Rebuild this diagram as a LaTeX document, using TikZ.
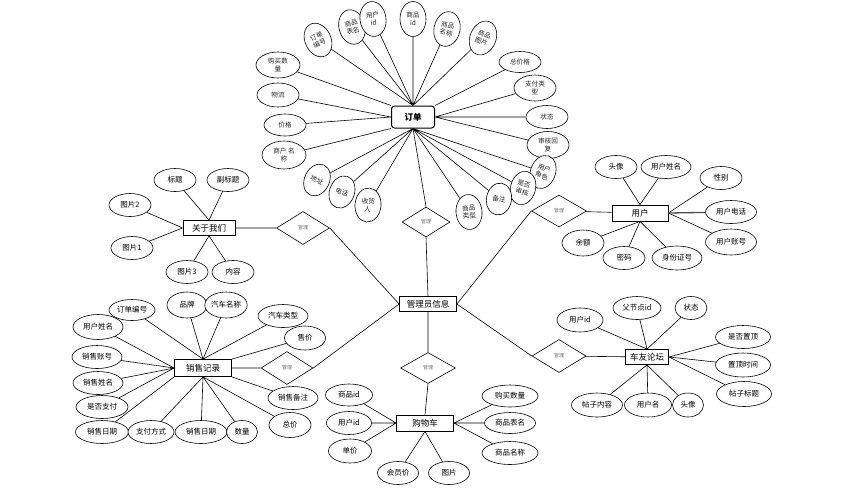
\documentclass[tikz,border=0pt]{standalone}
\usepackage{fontspec}
\setmainfont{Noto Sans CJK SC}
\usetikzlibrary{shapes.geometric}
\begin{document}
\begin{tikzpicture}[x=1pt,y=-1pt,
  every node/.style={inner sep=0pt},
  box/.style={draw, line width=0.8pt, rectangle, minimum height=15pt, fill=white, font=\fontsize{8.5}{10}\selectfont},
  att/.style={draw, ellipse, line width=0.6pt, minimum width=42pt, minimum height=23pt, fill=white, font=\fontsize{7.5}{9}\selectfont},
  satt/.style={draw, ellipse, line width=0.6pt, minimum width=26pt, minimum height=35pt, align=center, fill=white, font=\fontsize{6.6}{7.8}\selectfont, text=black!85},
  hatt/.style={satt, minimum width=42pt, minimum height=24pt},
  rel/.style={draw, diamond, line width=0.6pt, fill=white, font=\fontsize{5}{6}\selectfont, text=black!55},
  ln/.style={line width=0.6pt}]
\path[use as bounding box, fill=white] (0,0) rectangle (850,499);

% entities
\node[box, rounded corners=3pt, line width=1pt, minimum width=43pt, minimum height=22pt, font=\fontsize{8.5}{10}\selectfont\bfseries] (O) at (413,117) {订单};
\node[box, minimum width=57pt] (M) at (428,304) {管理员信息};
\node[box, minimum width=52pt] (A) at (209,228) {关于我们};
\node[box, minimum width=56pt, minimum height=16pt] (U) at (640,213) {用户};
\node[box, minimum width=57pt, minimum height=17pt] (S) at (203,368) {销售记录};
\node[box, minimum width=57pt, minimum height=16pt] (C) at (425,423) {购物车};
\node[box, minimum width=43pt] (F) at (647,357) {车友论坛};

% relations
\node[rel, minimum width=48pt, minimum height=30pt] (D1) at (426,222) {管理};
\node[rel, minimum width=53pt, minimum height=33pt] (D2) at (303,228) {管理};
\node[rel, minimum width=55pt, minimum height=32pt] (D3) at (559,211) {管理};
\node[rel, minimum width=52pt, minimum height=33pt] (D4) at (287,368) {管理};
\node[rel, minimum width=55pt, minimum height=31pt] (D5) at (428,368) {管理};
\node[rel, minimum width=54pt, minimum height=33pt] (D6) at (559,356) {管理};

\draw[ln] (O.south) -- (D1.north) (D1.south) -- (M.north)
  (A) -- (D2) (D2.east) -- (M.west)
  (U) -- (D3) (D3.west) -- (M.east)
  (S) -- (D4) (D4.east) -- (M.west)
  (M.south) -- (D5.north) (D5.south) -- (C.north)
  (F) -- (D6) (D6.west) -- (M.east);

% order attributes
\node[satt, rotate=25] (o1) at (318,40) {订单\\编号};
\node[satt, rotate=15] (o2) at (352,27) {商品\\表名};
\node[satt, rotate=8] (o3) at (373,19) {用户\\id};
\node[satt] (o4) at (413,19) {商品\\id};
\node[satt, rotate=-12] (o5) at (447,29) {商品\\名称};
\node[satt, rotate=-22] (o6) at (483,38) {商品\\图片};
\node[hatt, minimum height=21pt] (o7) at (520,62) {总价格};
\node[hatt, minimum height=26pt] (o8) at (535,88) {支付类\\型};
\node[hatt, minimum height=23pt] (o9) at (547,117) {状态};
\node[hatt, minimum height=27pt] (o10) at (548,145) {审核回\\复};
\node[satt, minimum width=25pt, minimum height=34pt, rotate=-20] (o11) at (543,172) {用户\\角色};
\node[satt, minimum width=25pt, minimum height=34pt, rotate=-15] (o12) at (523,188) {是否\\审核};
\node[satt, minimum width=25pt, minimum height=32pt, rotate=-10] (o13) at (499,199) {备注};
\node[satt, minimum width=26pt, minimum height=35pt, rotate=5] (o14) at (469,212) {商品\\类型};
\node[satt, minimum width=26pt, minimum height=34pt, rotate=-5] (o15) at (368,205) {收货\\人};
\node[satt, minimum width=25pt, minimum height=33pt, rotate=-20] (o16) at (342,192) {电话};
\node[satt, minimum width=25pt, minimum height=33pt, rotate=-25] (o17) at (317,180) {地址};
\node[hatt, minimum width=44pt, minimum height=28pt] (o18) at (284,155) {商户 名\\称};
\node[hatt, minimum height=22pt] (o19) at (285,125) {价格};
\node[hatt] (o20) at (278,95) {物流};
\node[hatt, minimum width=44pt, minimum height=26pt] (o21) at (278,65) {购买数\\量};

\draw[ln] (o1) -- (O.north) (o2) -- (O.north) (o3) -- (O.north) (o4) -- (O.north)
  (o5) -- (O.north) (o6) -- (O.north) (o7) -- (O.north east)
  (o8) -- (O.east) (o9) -- (O.east) (o10) -- (O.east)
  (o11) -- (O.south) (o12) -- (O.south) (o13) -- (O.south) (o14) -- (O.south)
  (o15) -- (O.south) (o16) -- (O.south) (o17) -- (O.south)
  (o18) -- (O.south west) (o19) -- (O.west) (o20) -- (O.west) (o21) -- (O.north west);

% about us
\node[att] (a1) at (175,180) {标题};
\node[att] (a2) at (228,180) {副标题};
\node[att] (a3) at (130,205) {图片2};
\node[att] (a4) at (132,248) {图片1};
\node[att] (a5) at (187,272) {图片3};
\node[att] (a6) at (233,272) {内容};
\draw[ln] (a1) -- (A.north) (a2) -- (A.north) (a3) -- (A.west) (a4) -- (A.west)
  (a5) -- (A.south) (a6) -- (A.south);

% user
\node[att] (u1) at (616,167) {头像};
\node[att, minimum width=50pt] (u2) at (666,167) {用户姓名};
\node[att] (u3) at (721,178) {性别};
\node[att, minimum width=51pt] (u4) at (731,212) {用户电话};
\node[att, minimum width=51pt, minimum height=26pt] (u5) at (731,242) {用户账号};
\node[att, minimum height=26pt] (u6) at (583,243) {余额};
\node[att] (u7) at (624,258) {密码};
\node[att, minimum width=50pt, minimum height=24pt] (u8) at (677,258) {身份证号};
\draw[ln] (u1) -- (U.north) (u2) -- (U.north) (u3) -- (U.east) (u5) -- (U.east)
  (u6) -- (U.south) (u7) -- (U.south) (u8) -- (U.south);
\draw[line width=1.3pt, black!70] (u4) -- (U.east);

% sales record
\node[att, minimum width=46pt, minimum height=21pt] (s1) at (132,310) {订单编号};
\node[att, minimum width=40pt, minimum height=26pt] (s2) at (187,305) {品牌};
\node[att, minimum width=40pt, minimum height=26pt] (s3) at (226,305) {汽车名称};
\node[att, minimum width=50pt] (s4) at (283,316) {汽车类型};
\node[att, minimum width=41pt, minimum height=24pt] (s5) at (305,338) {售价};
\node[att, minimum width=50pt, minimum height=25pt] (s6) at (98,327) {用户姓名};
\node[att, minimum width=50pt] (s7) at (97,357) {销售账号};
\node[att, minimum width=50pt] (s8) at (98,383) {销售姓名};
\node[att, minimum width=52pt] (s9) at (102,407) {是否支付};
\node[att, minimum width=53pt] (s10) at (102,432) {销售日期};
\node[att, minimum width=46pt] (s11) at (151,432) {支付方式};
\node[att, minimum width=52pt] (s12) at (201,432) {销售日期};
\node[att, minimum width=31pt] (s13) at (242,432) {数量};
\node[att, minimum width=50pt] (s14) at (293,398) {销售备注};
\node[att, minimum width=42pt, minimum height=25pt] (s15) at (290,425) {总价};
\draw[ln] (s1) -- (S.north) (s2) -- (S.north) (s3) -- (S.north) (s4) -- (S.north)
  (s5) -- (S.north east) (s6) -- (S.west) (s7) -- (S.west) (s8) -- (S.west) (s9) -- (S.west)
  (s10) -- (S.south west) (s11) -- (S.south) (s12) -- (S.south) (s13) -- (S.south)
  (s14) -- (S.south east) (s15) -- (S.south);

% shopping cart
\node[att, minimum width=47pt, minimum height=22pt] (c1) at (349,395) {商品id};
\node[att, minimum width=45pt] (c2) at (349,423) {用户id};
\node[att, minimum width=43pt, minimum height=24pt] (c3) at (350,451) {单价};
\node[att, minimum width=41pt] (c4) at (398,473) {会员价};
\node[att, minimum width=41pt] (c5) at (449,473) {图片};
\node[att, minimum width=56pt, minimum height=22pt] (c6) at (510,396) {购买数量};
\node[att, minimum width=51pt, minimum height=21pt] (c7) at (510,423) {商品表名};
\node[att, minimum width=56pt, minimum height=23pt] (c8) at (510,453) {商品名称};
\draw[ln] (c1) -- (C.west) (c2) -- (C.west) (c3) -- (C.west) (c4) -- (C.south) (c5) -- (C.south)
  (c6) -- (C.east) (c7) -- (C.east) (c8) -- (C.east);

% forum
\node[att, minimum width=46pt, minimum height=24pt] (f1) at (580,320) {用户id};
\node[att, minimum width=48pt, minimum height=23pt] (f2) at (637,308) {父节点id};
\node[att, minimum width=32pt, minimum height=23pt] (f3) at (691,308) {状态};
\node[att, minimum width=55pt] (f4) at (743,337) {是否置顶};
\node[att, minimum width=55pt, minimum height=24pt] (f5) at (743,365) {置顶时间};
\node[att, minimum width=55pt, minimum height=25pt] (f6) at (744,394) {帖子标题};
\node[att, minimum width=51pt, minimum height=24pt] (f7) at (597,405) {帖子内容};
\node[att, minimum width=47pt, minimum height=24pt] (f8) at (648,405) {用户名};
\node[att, minimum width=31pt, minimum height=24pt] (f9) at (688,405) {头像};
\draw[ln] (f1) -- (F.north) (f2) -- (F.north) (f3) -- (F.north)
  (f4) -- (F.east) (f5) -- (F.east) (f6) -- (F.east)
  (f7) -- (F.south) (f8) -- (F.south) (f9) -- (F.south);
\end{tikzpicture}
\end{document}
